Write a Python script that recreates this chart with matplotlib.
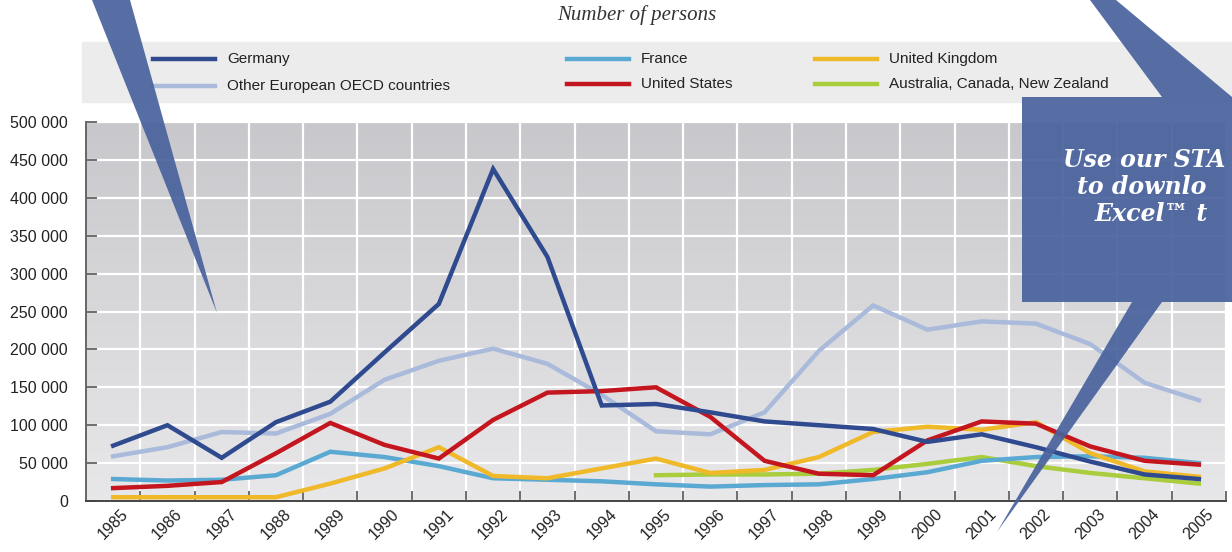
import numpy as np
import matplotlib.pyplot as plt
from matplotlib.patches import Polygon, Rectangle
from matplotlib.lines import Line2D
from matplotlib.colors import LinearSegmentedColormap
from matplotlib.ticker import FuncFormatter
from matplotlib.transforms import ScaledTranslation

years = list(range(1985, 2006))
germany = [73000, 100000, 57000, 104000, 131000, 196000, 260000, 438000, 322000, 126000,
           128000, 117000, 105000, 100000, 95000, 78000, 88000, 71000, 52000, 35000, 29000]
other_europe = [59000, 71000, 91000, 89000, 115000, 160000, 185000, 201000, 181000, 140000,
                92000, 88000, 117000, 198000, 258000, 226000, 237000, 234000, 207000, 156000, 133000]
france = [29000, 27000, 28000, 34000, 65000, 58000, 46000, 30000, 28000, 26000,
          22000, 19000, 21000, 22000, 29000, 38000, 53000, 58000, 59000, 57000, 50000]
united_states = [17000, 20000, 25000, 63000, 103000, 74000, 56000, 107000, 143000, 145000,
                 150000, 111000, 53000, 36000, 34000, 80000, 105000, 102000, 72000, 53000, 48000]
united_kingdom = [5000, 5000, 5000, 5000, 23000, 43000, 71000, 33000, 30000, 43000,
                  56000, 37000, 41000, 58000, 91000, 98000, 94000, 104000, 63000, 39000, 32000]
aus_can_nz = [None] * 10 + [34000, 35000, 35000, 36000, 41000, 49000, 58000, 46000, 37000, 30000, 23000]

labels = ["Germany", "Other European OECD countries", "France", "United States",
          "United Kingdom", "Australia, Canada, New Zealand"]
series = [germany, other_europe, france, united_states, united_kingdom, aus_can_nz]
colors = ["#2f4a8e", "#a9badb", "#5aa9d2", "#c3161f", "#f0b92a", "#a9cd3d"]
draw_order = [1, 5, 2, 4, 3, 0]

W, H = 1232, 552
sans = "Liberation Sans"


def fx(x):
    return x / W


def fy(y):
    return 1 - y / H


fig = plt.figure(figsize=(W / 100, H / 100), dpi=100)
ax = fig.add_axes([fx(86), fy(501), fx(1226 - 86), (501 - 122) / H])

x = np.arange(len(years))
for i in draw_order:
    vals = np.array([np.nan if v is None else v for v in series[i]], dtype=float)
    ax.plot(x, vals, color=colors[i], lw=3.2, zorder=3, solid_joinstyle="miter")

# gradient background of the plot area
grad = np.linspace(0, 1, 256).reshape(-1, 1)
ax.imshow(grad, cmap=LinearSegmentedColormap.from_list("bg", ["#e8e8ea", "#c8c8cc"]),
          extent=[0, 1, 0, 1], transform=ax.transAxes,
          aspect="auto", origin="lower", zorder=0)

ax.set_xlim(-0.5, len(years) - 0.5)
ax.set_ylim(0, 500000)
ax.set_yticks(np.arange(0, 500001, 50000))
ax.yaxis.set_major_formatter(FuncFormatter(lambda v, p: f"{int(v):,}".replace(",", " ")))
ax.set_xticks(x)
ax.set_xticklabels([str(y) for y in years], rotation=45, ha="center",
                   fontfamily=sans, fontsize=11.5, color="#222222")
shift = ScaledTranslation(-5 / 100, 0, fig.dpi_scale_trans)
for t in ax.get_xticklabels():
    t.set_transform(t.get_transform() + shift)
ax.set_xticks(np.arange(0.5, len(years)), minor=True)
ax.tick_params(axis="x", which="major", length=0, pad=4)
ax.tick_params(axis="x", which="minor", direction="in", length=7, width=1.2, color="#555555")
ax.tick_params(axis="y", direction="in", length=8, width=1.2, color="#555555", pad=13)
for t in ax.get_yticklabels():
    t.set_fontfamily(sans)
    t.set_fontsize(11.5)
    t.set_color("#222222")

ax.grid(True, which="minor", axis="x", color="white", lw=1.6, zorder=1)
ax.grid(True, which="major", axis="y", color="white", lw=1.6, zorder=1)
ax.set_axisbelow(True)
for s in ["top", "right"]:
    ax.spines[s].set_visible(False)
ax.spines["left"].set_color("#666666")
ax.spines["left"].set_linewidth(1.4)
ax.spines["bottom"].set_color("#444444")
ax.spines["bottom"].set_linewidth(1.4)

# title
fig.text(fx(637), fy(15), "Number of persons", ha="center", va="center",
         fontfamily="Liberation Serif", fontstyle="italic", fontsize=15, color="#333333")

# legend
fig.add_artist(Rectangle((fx(82), fy(102)), fx(W - 82), (102 - 42) / H,
                         transform=fig.transFigure, color="#ececec", zorder=1))
leg_x = [153, 153, 567, 567, 815, 815]
leg_y = [59, 86, 59, 84, 59, 84]
for i, lab in enumerate(labels):
    x0 = leg_x[i]
    y0 = leg_y[i]
    fig.add_artist(Line2D([fx(x0), fx(x0 + 62)], [fy(y0), fy(y0)], color=colors[i], lw=3.2,
                          transform=fig.transFigure, zorder=2))
    fig.text(fx(x0 + 74), fy(y0), lab, ha="left", va="center", fontfamily=sans,
             fontsize=11, color="#222222", zorder=2)

# callouts
callout_color = "#4a639e"
left_wedge = [(92, 0), (130, 0), (217, 313)]
right_shape = [(1090, 0), (1116, 0), (1232, 97), (1232, 302), (1162, 302), (997, 532),
               (1132, 302), (1022, 302), (1022, 97), (1162, 97)]
for pts in [left_wedge, right_shape]:
    fig.add_artist(Polygon([(fx(a), fy(b)) for a, b in pts], closed=True,
                           transform=fig.transFigure, facecolor=callout_color,
                           edgecolor="none", alpha=0.93, zorder=10))
callout_lines = ["Use our STA", "to downlo", "Excel\u2122 t"]
callout_x = [1063, 1077, 1095]
callout_y = [160, 187, 214]
for txt, cx, cy in zip(callout_lines, callout_x, callout_y):
    fig.text(fx(cx), fy(cy), txt, ha="left", va="center", color="white",
             fontfamily="DejaVu Serif", fontstyle="italic", fontweight="bold",
             fontsize=17, zorder=11)

fig.savefig("out.png", dpi=100)
